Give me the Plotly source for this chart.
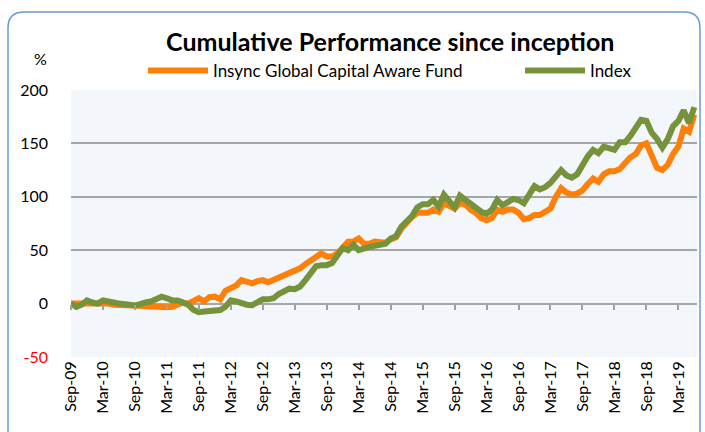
import plotly.graph_objects as go

# ---- data ----
months = []
_mn = ["Jan", "Feb", "Mar", "Apr", "May", "Jun", "Jul", "Aug", "Sep", "Oct", "Nov", "Dec"]
for yr in range(2009, 2020):
    for mi, m in enumerate(_mn):
        if (yr == 2009 and mi < 8) or (yr == 2019 and mi > 5):
            continue
        months.append(f"{m}-{str(yr)[2:]}")

fund = [0, 0, 1, 1, 0.5, 0, 1, 0, -1, -1,
        -1, -1.5, -1.5, -2, -2.5, -3, -3, -3.5, -3.5, -3,
        -1, 1, 0, 3, 5, 2, 6, 6.5, 4, 12,
        15, 17, 22, 20, 19, 21, 22, 20, 22, 24,
        26, 29, 31, 33, 37, 40, 44, 47, 44, 44,
        47, 52, 58, 58, 61, 56, 56, 58, 57, 57,
        60, 62, 70, 76, 81, 85, 85, 85, 88, 86,
        94, 92, 89, 94, 93, 88, 85, 80, 78, 80,
        88, 86, 88, 88, 85, 79, 80, 83, 83, 86,
        89, 100, 108, 104, 102, 103, 106, 112, 117, 114,
        121, 124, 124, 126, 131, 137, 140, 148, 150, 137,
        127, 125, 130, 140, 147, 164, 161, 177]

index = [0, -3, -1, 3, 1, 0, 3, 2.5, 1, 0,
         0, -1, -2, 0, 1, 2, 4, 6.5, 5, 3,
         3, 1, -1, -6, -8, -7.5, -7, -6.5, -6, -3,
         3, 2, 0, -1, -1.5, 1, 4, 4, 5, 9,
         12, 14, 13.5, 16, 22, 28, 35, 36, 36, 38,
         44, 52, 50, 55, 50, 52, 53, 54, 55, 56,
         61, 63, 72, 77, 82, 90, 93, 93, 97, 91,
         102, 96, 90, 101, 97, 93, 89, 86, 84, 88,
         97, 92, 95, 98, 97, 94, 102, 110, 107, 109,
         113, 119, 125, 120, 118, 121, 130, 138, 144, 141,
         147, 145, 144, 151, 151, 157, 164, 172, 171, 160,
         154, 146, 154, 166, 171, 181, 169, 184]

tick_idx = list(range(0, len(months), 6))
tick_labels = [months[i] for i in tick_idx]
y_ticks = [-50, 0, 50, 100, 150, 200]
y_tick_text = ['<span style="color:#FF0000">-50</span>'] + [str(v) for v in y_ticks[1:]]

FONT = "Lato"
fig = go.Figure()
fig.add_trace(go.Scatter(x=months, y=fund, mode="lines", name="Insync Global Capital Aware Fund",
                         line=dict(color="#FF8008", width=6), legend="legend"))
fig.add_trace(go.Scatter(x=months, y=index, mode="lines", name="Index",
                         line=dict(color="#76933C", width=6), legend="legend2"))
# helper (empty) trace to draw tick marks on the zero line
fig.add_trace(go.Scatter(x=[], y=[], xaxis="x2", yaxis="y", showlegend=False, hoverinfo="skip"))

W, H = 705, 432
L, R, T, B = 71, 8, 90, 75
pw, ph = W - L - R, H - T - B


def px(x):
    return (x - L) / pw


def py(y):
    return (H - B - y) / ph


# rounded chart border
x0, x1, y0, y1 = px(8), px(700), py(440), py(12)
rx, ry = 16 / pw, 16 / ph
path = (f"M{x0},{y0} L{x0},{y1 - ry} Q{x0},{y1} {x0 + rx},{y1} "
        f"L{x1 - rx},{y1} Q{x1},{y1} {x1},{y1 - ry} L{x1},{y0}")

leg_common = dict(orientation="h", xref="paper", yref="paper", y=py(71),
                  xanchor="left", yanchor="middle", font=dict(family=FONT, size=17),
                  bgcolor="rgba(0,0,0,0)", itemwidth=60)

fig.update_layout(
    width=W, height=H,
    margin=dict(l=L, r=R, t=T, b=B, autoexpand=False),
    paper_bgcolor="white",
    plot_bgcolor="#F3F6FB",
    font=dict(family=FONT, size=15, color="#000000"),
    title=dict(text="<b>Cumulative Performance since inception</b>",
               font=dict(family=FONT, size=25, color="#000000"),
               xref="paper", x=0.51, xanchor="center",
               yref="container", y=1 - 42 / H, yanchor="middle"),
    showlegend=True,
    legend=dict(x=px(143), **leg_common),
    legend2=dict(x=px(520), **leg_common),
    xaxis=dict(type="category", range=[0, len(months) - 0.5],
               tickmode="array", tickvals=[months[i] for i in tick_idx], ticktext=tick_labels,
               tickangle=-90, ticks="", showgrid=False, showline=False, zeroline=False,
               tickfont=dict(family=FONT, size=16)),
    xaxis2=dict(overlaying="x", anchor="free", position=py(303.6), side="bottom",
                range=[0, len(months) - 0.5], tickmode="array", tickvals=tick_idx,
                ticks="outside", ticklen=5, tickwidth=1.5, tickcolor="#A0A0A0",
                showticklabels=False, showgrid=False, showline=False, zeroline=False),
    yaxis=dict(range=[-50, 200], tickmode="array", tickvals=y_ticks, ticktext=y_tick_text,
               showgrid=True, gridcolor="#A6A6A6", gridwidth=1.5, zeroline=False,
               showline=False, ticks="", ticklabelstandoff=22,
               tickfont=dict(family=FONT, size=16)),
    annotations=[dict(text="%", xref="paper", yref="paper", x=px(40), y=py(59),
                      xanchor="center", yanchor="middle",
                      showarrow=False, font=dict(family=FONT, size=16))],
    shapes=[dict(type="path", path=path, xref="paper", yref="paper",
                 line=dict(color="#6A9BD8", width=1.5), layer="below")],
)

fig.write_html("out.html", config={"displayModeBar": False},
               post_script="document.body.style.margin='0px';")
